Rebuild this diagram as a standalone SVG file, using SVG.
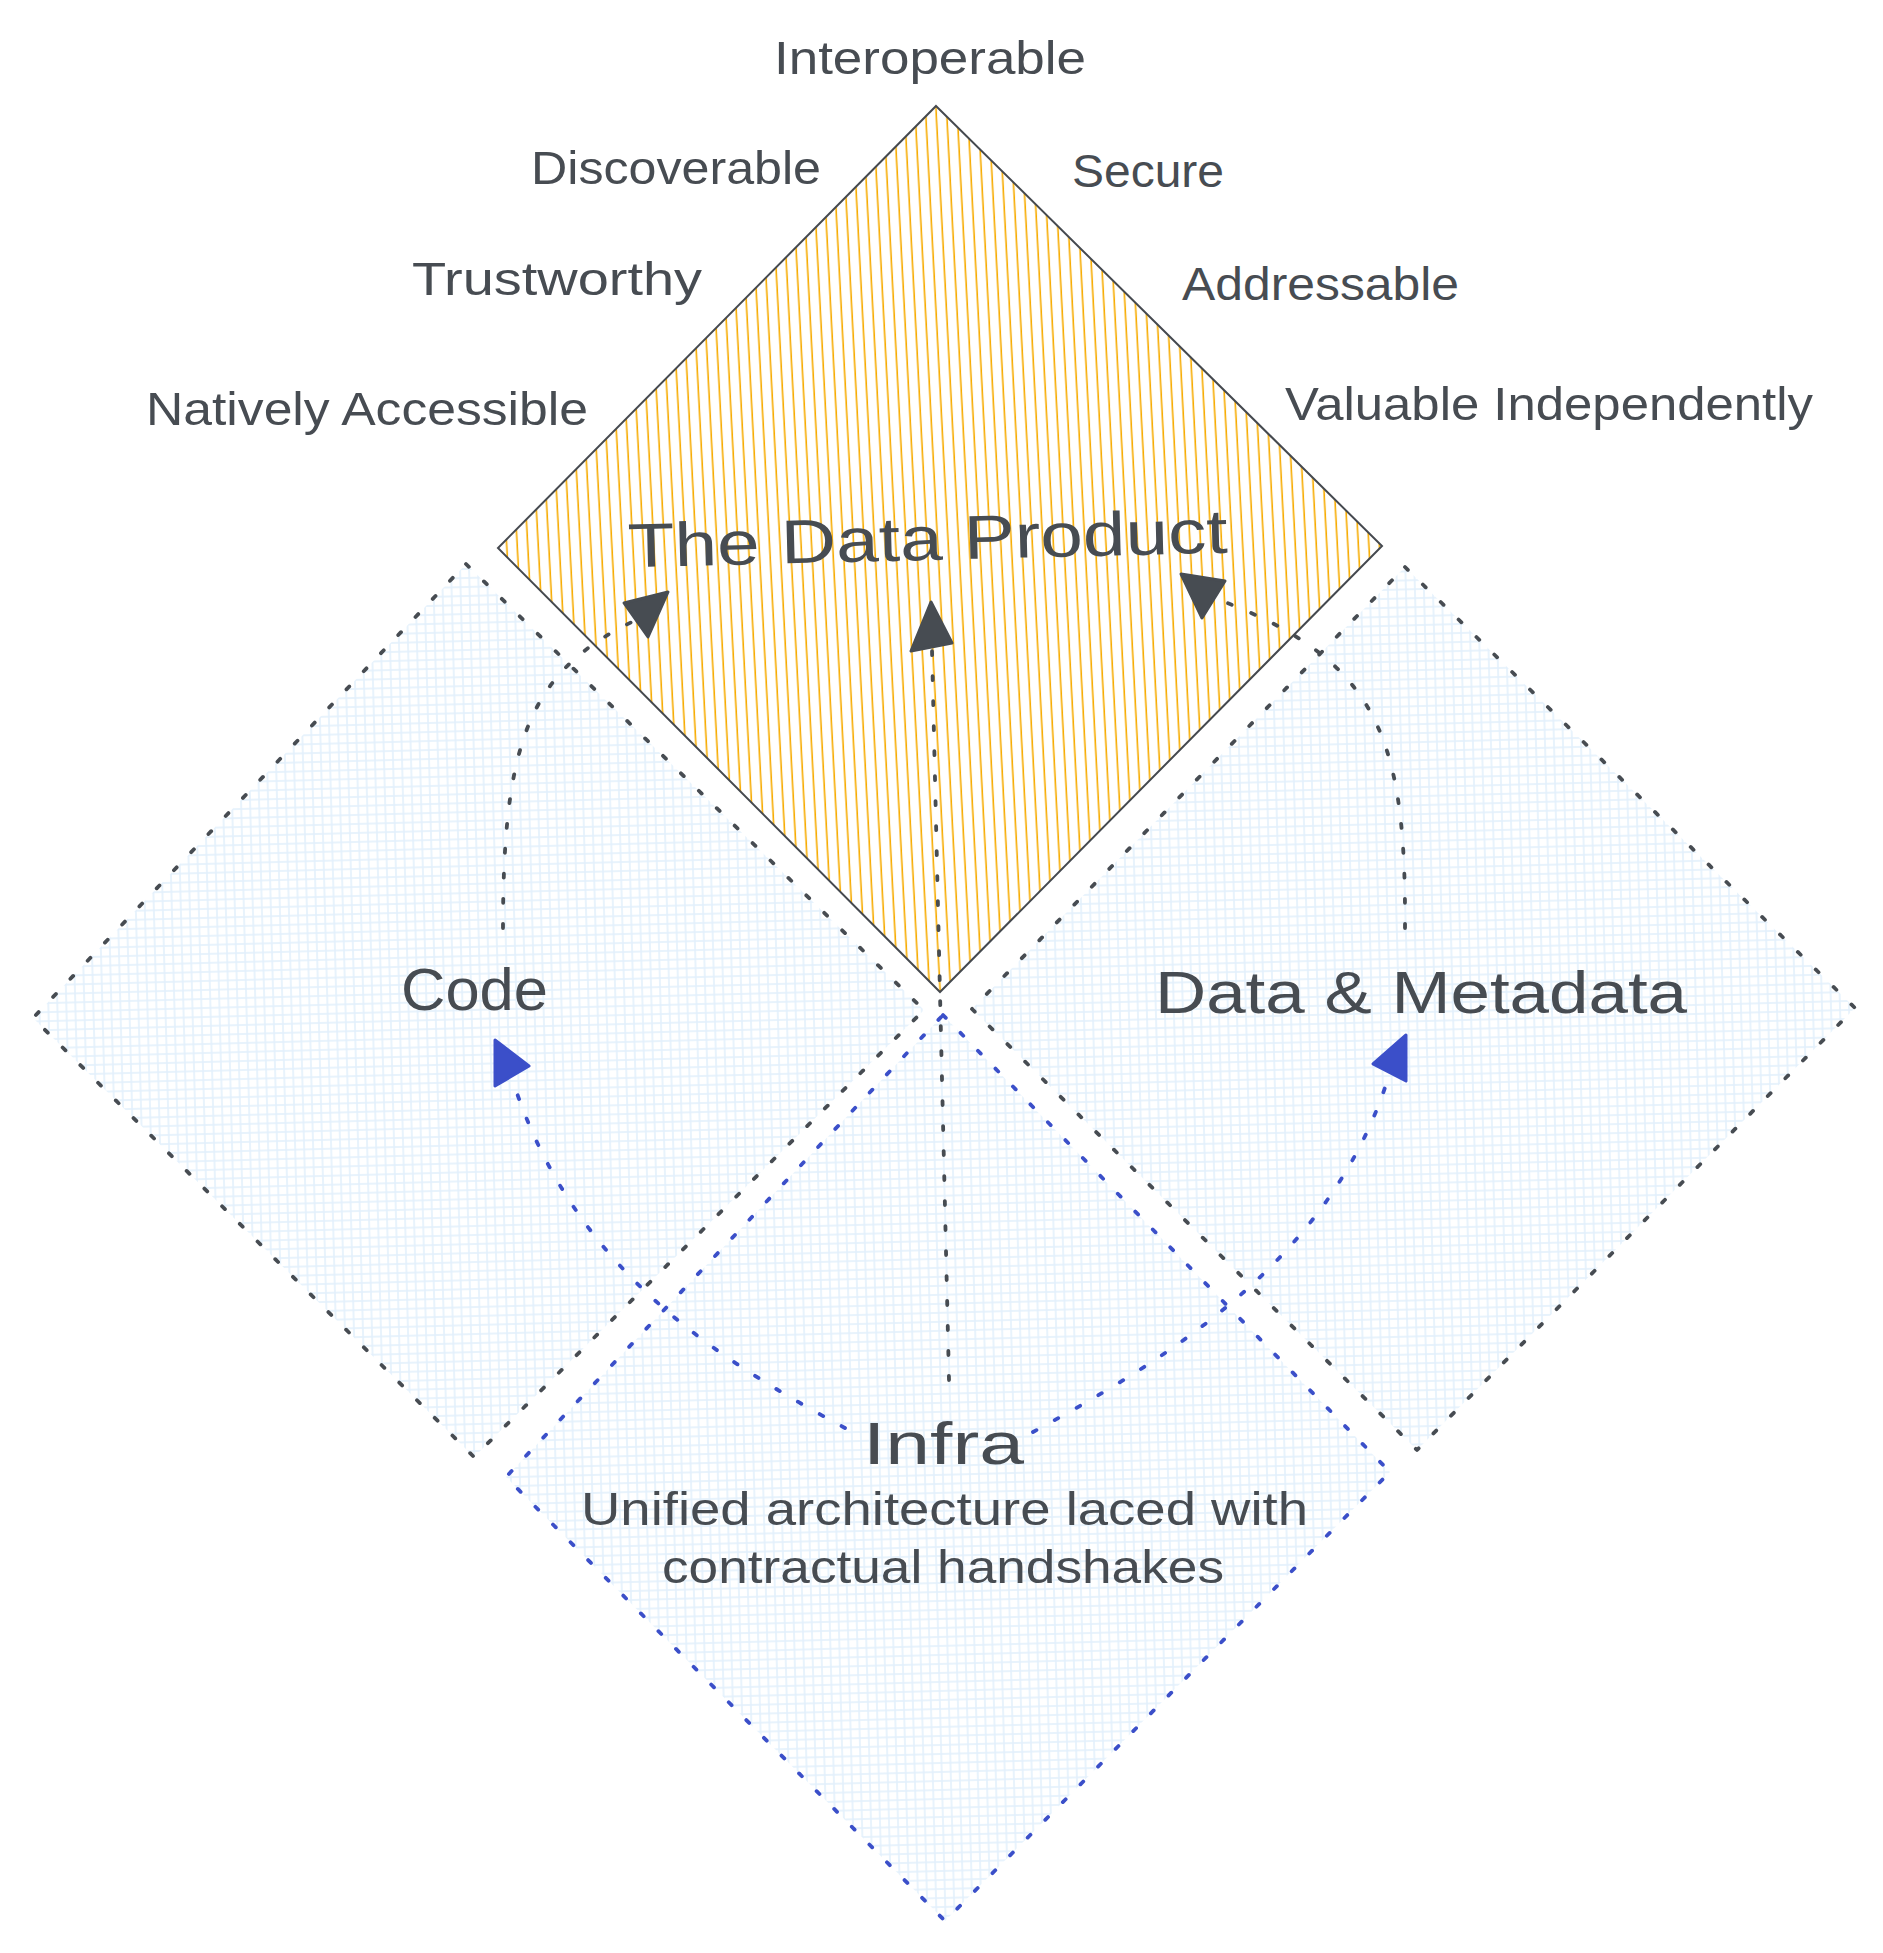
<svg xmlns="http://www.w3.org/2000/svg" width="1883" height="1953" viewBox="0 0 1883 1953">
<style>
.lbl{font-family:"Liberation Sans",Arial,sans-serif;fill:#474c52;}
.side{font-size:46px;}
.big{font-size:60px;}
.sub{font-size:46px;}
.dashd{fill:url(#cross);stroke:#474c52;stroke-width:3.8;stroke-dasharray:4 21;stroke-linecap:round;stroke-linejoin:round;}
.dashb{fill:url(#cross);stroke:#3b4fc9;stroke-width:3.8;stroke-dasharray:4 21;stroke-linecap:round;stroke-linejoin:round;}
.conn{fill:none;stroke:#474c52;stroke-width:3.8;stroke-dasharray:4 21;stroke-linecap:round;}
.connb{fill:none;stroke:#3b4fc9;stroke-width:3.8;stroke-dasharray:4 21;stroke-linecap:round;}
.head{fill:#474c52;stroke:#474c52;stroke-width:3;stroke-linejoin:round;}
.headb{fill:#3b4fc9;stroke:#3b4fc9;stroke-width:3;stroke-linejoin:round;}
</style>
<defs>
<pattern id="hatch" patternUnits="userSpaceOnUse" width="10.5" height="40" patternTransform="rotate(-3)">
<rect width="10.5" height="40" fill="#ffffff"/>
<line x1="5" y1="0" x2="5" y2="40" stroke="#f7ab00" stroke-width="1.6"/>
</pattern>
<pattern id="cross" patternUnits="userSpaceOnUse" width="9" height="9" patternTransform="rotate(-1.5)">
<rect width="9" height="9" fill="#ffffff"/>
<line x1="4" y1="0" x2="4" y2="9" stroke="#e3f0fc" stroke-width="1.6"/>
<line x1="0" y1="5" x2="9" y2="5" stroke="#e3f0fc" stroke-width="1.6"/>
</pattern>
</defs>
<rect width="1883" height="1953" fill="#ffffff"/>

<g id="node-code">
<polygon class="dashd" points="466,564 924,1010 474,1457 33,1018"/>
<text class="lbl big" x="401" y="1010" textLength="147" lengthAdjust="spacingAndGlyphs">Code</text>
</g>
<g id="node-data">
<polygon class="dashd" points="1405,567 1855,1008 1417,1450 972,1009"/>
<text class="lbl big" x="1155" y="1013" textLength="532" lengthAdjust="spacingAndGlyphs">Data &amp; Metadata</text>
</g>
<g id="node-infra">
<polygon class="dashb" points="943,1015 1390,1472 945,1921 506,1477"/>
<text class="lbl big" x="863" y="1464" textLength="161" lengthAdjust="spacingAndGlyphs">Infra</text>
<text class="lbl sub" x="581" y="1525" textLength="727" lengthAdjust="spacingAndGlyphs">Unified architecture laced with</text>
<text class="lbl sub" x="662" y="1583" textLength="562" lengthAdjust="spacingAndGlyphs">contractual handshakes</text>
</g>
<g id="node-product">
<polygon points="936,106 1382,546 940,992 498,548" fill="url(#hatch)" stroke="#45494f" stroke-width="2"/>
<text class="lbl" font-size="62" x="628" y="560" textLength="600" lengthAdjust="spacingAndGlyphs" transform="rotate(-1.4 928 556)">The Data Product</text>
</g>

<g id="qualities">
<text class="lbl side" x="774" y="74" textLength="312" lengthAdjust="spacingAndGlyphs">Interoperable</text>
<text class="lbl side" x="531" y="184" textLength="290" lengthAdjust="spacingAndGlyphs">Discoverable</text>
<text class="lbl side" x="1072" y="187" textLength="152" lengthAdjust="spacingAndGlyphs">Secure</text>
<text class="lbl side" x="412" y="295" textLength="290" lengthAdjust="spacingAndGlyphs">Trustworthy</text>
<text class="lbl side" x="1182" y="300" textLength="277" lengthAdjust="spacingAndGlyphs">Addressable</text>
<text class="lbl side" x="146" y="425" textLength="442" lengthAdjust="spacingAndGlyphs">Natively Accessible</text>
<text class="lbl side" x="1285" y="420" textLength="528" lengthAdjust="spacingAndGlyphs">Valuable Independently</text>
</g>

<g id="connectors">
<path class="conn" d="M 503 928 C 503 740, 530 670, 636 620"/>
<polygon class="head" points="668,592 624,603 648,637"/>
<path class="conn" d="M 949 1380 L 932 650"/>
<polygon class="head" points="931,602 911,651 952,643"/>
<path class="conn" d="M 1405 928 C 1406 740, 1380 660, 1217 599"/>
<polygon class="head" points="1181,574 1225,581 1202,618"/>
<path class="connb" d="M 845 1428 C 710 1355, 570 1265, 511 1075"/>
<polygon class="headb" points="495,1040 529,1066 495,1086"/>
<path class="connb" d="M 1033 1432 C 1175 1355, 1335 1255, 1390 1072"/>
<polygon class="headb" points="1406,1035 1373,1064 1406,1081"/>
</g>
</svg>
